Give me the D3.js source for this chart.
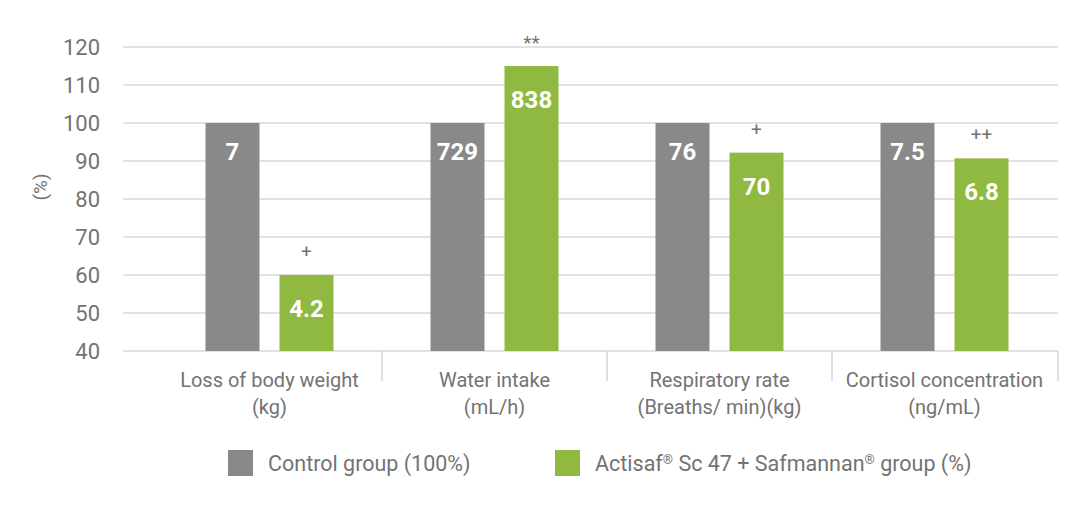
<!DOCTYPE html>
<html>
<head>
  <meta charset="utf-8">
  <title>Bar chart</title>
  <script src="https://cdn.jsdelivr.net/npm/d3@7"></script>
  <style>
    body { margin: 0; background: #fff; }
    svg text { font-family: Roboto, "Noto Sans", sans-serif; }
  </style>
</head>
<body>
<div id="chart"></div>
<script>
// data
var categories = [
  ["Loss of body weight", "(kg)"],
  ["Water intake", "(mL/h)"],
  ["Respiratory rate", "(Breaths/ min)(kg)"],
  ["Cortisol concentration", "(ng/mL)"]
];
var controlValues = [100, 100, 100, 100];
var treatedValues = [60, 115, 92.2, 90.7];
var controlLabels = ["7", "729", "76", "7.5"];
var treatedLabels = ["4.2", "838", "70", "6.8"];
var signif = ["+", "**", "+", "++"];
var yTicks = [40, 50, 60, 70, 80, 90, 100, 110, 120];
// legend names, split so the ® marks can be raised
var seriesNames = [
  ["Control group (100%)"],
  ["Actisaf", "\u00AE", " Sc 47 + Safmannan", "\u00AE", " group (%)"]
];

var gray = "#898989", green = "#8fb940", textGray = "#737373";
var W = 1080, H = 509;

var svg = d3.select("#chart").append("svg")
  .attr("width", W).attr("height", H);

var y = d3.scaleLinear().domain([40, 120]).range([351, 47]);
var x = d3.scaleBand().domain(d3.range(categories.length)).range([157, 1057]);
var x1 = d3.scaleBand().domain(["c", "t"]).range([0, 128]).paddingInner(0.2703);
var pairOff = (x.bandwidth() - 128) / 2;

// grid lines
svg.append("g").selectAll("line").data(yTicks).join("line")
  .attr("x1", 123).attr("x2", 1058)
  .attr("y1", function (d) { return y(d); })
  .attr("y2", function (d) { return y(d); })
  .attr("stroke", "#d9d9d9").attr("stroke-width", 1.6);

// y axis labels
var yAxis = svg.append("g").attr("transform", "translate(100,0)")
  .call(d3.axisLeft(y).tickValues(yTicks).tickSize(0).tickPadding(0));
yAxis.select(".domain").remove();
yAxis.selectAll("text")
  .attr("fill", textGray).style("font-size", "22px").attr("dy", "0.36em");

svg.append("text")
  .attr("transform", "translate(47,187) rotate(-90)")
  .attr("text-anchor", "middle")
  .attr("fill", textGray).style("font-size", "19px")
  .text("(%)");

// category dividers
var divs = d3.range(1, categories.length + 1).map(function (i) {
  return i < categories.length ? x(i) : 1058;
});
svg.append("g").selectAll("line").data(divs).join("line")
  .attr("x1", function (d) { return d; }).attr("x2", function (d) { return d; })
  .attr("y1", 351).attr("y2", 381)
  .attr("stroke", "#d9d9d9").attr("stroke-width", 1.6);

// bars
var groups = svg.append("g").selectAll("g").data(categories).join("g")
  .attr("transform", function (d, i) { return "translate(" + (x(i) + pairOff) + ",0)"; });

groups.append("rect")
  .attr("x", x1("c")).attr("width", x1.bandwidth())
  .attr("y", function (d, i) { return y(controlValues[i]); })
  .attr("height", function (d, i) { return y(40) - y(controlValues[i]); })
  .attr("fill", gray);

groups.append("rect")
  .attr("x", x1("t")).attr("width", x1.bandwidth())
  .attr("y", function (d, i) { return y(treatedValues[i]); })
  .attr("height", function (d, i) { return y(40) - y(treatedValues[i]); })
  .attr("fill", green);

// value labels inside bars
groups.append("text")
  .attr("x", x1("c") + x1.bandwidth() / 2)
  .attr("y", function (d, i) { return y(controlValues[i]) + 37; })
  .attr("text-anchor", "middle").attr("fill", "#fff")
  .style("font-size", "24px").style("font-weight", "bold")
  .text(function (d, i) { return controlLabels[i]; });

groups.append("text")
  .attr("x", x1("t") + x1.bandwidth() / 2)
  .attr("y", function (d, i) { return y(treatedValues[i]) + 42; })
  .attr("text-anchor", "middle").attr("fill", "#fff")
  .style("font-size", "24px").style("font-weight", "bold")
  .text(function (d, i) { return treatedLabels[i]; });

// significance marks
groups.append("text")
  .attr("x", x1("t") + x1.bandwidth() / 2)
  .attr("y", function (d, i) { return y(treatedValues[i]) - 17; })
  .attr("text-anchor", "middle").attr("fill", textGray)
  .style("font-size", "19px")
  .text(function (d, i) { return signif[i]; });

// category labels
var cat = svg.append("g").selectAll("text").data(categories).join("text")
  .attr("text-anchor", "middle").attr("fill", textGray).style("font-size", "20px");
cat.append("tspan")
  .attr("x", function (d, i) { return x(i) + x.bandwidth() / 2; })
  .attr("y", 387).text(function (d) { return d[0]; });
cat.append("tspan")
  .attr("x", function (d, i) { return x(i) + x.bandwidth() / 2; })
  .attr("y", 414).text(function (d) { return d[1]; });

// legend
var legX = [228, 555];
var leg = svg.append("g").selectAll("g").data(seriesNames).join("g")
  .attr("transform", function (d, i) { return "translate(" + legX[i] + ",450)"; });
leg.append("rect").attr("width", 25).attr("height", 26)
  .attr("fill", function (d, i) { return i === 0 ? gray : green; });
leg.append("text").attr("x", 40).attr("y", 21)
  .attr("fill", textGray).style("font-size", "21.5px")
  .selectAll("tspan").data(function (d) { return d; }).join("tspan")
  .style("font-size", function (d) { return d === "\u00AE" ? "13px" : null; })
  .attr("dy", function (d, i, n) {
    if (d === "\u00AE") return -7;
    return (i > 0 && n[i - 1].__data__ === "\u00AE") ? 7 : null;
  })
  .text(function (d) { return d; });
</script>
</body>
</html>
